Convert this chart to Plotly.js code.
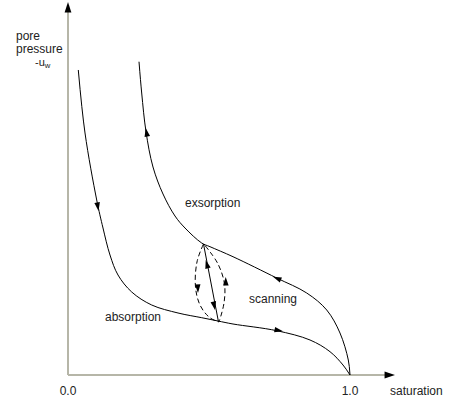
<!DOCTYPE html>
<html>
<head>
<meta charset="utf-8">
<script src="https://cdn.plot.ly/plotly-3.0.1.min.js"></script>
<style>html,body{margin:0;padding:0;background:#fff;}#chart{width:453px;height:398px;}</style>
</head>
<body>
<div id="chart"></div>
<script>
// Absorption (wetting) curve: saturation vs pore pressure -u_w
const absorptionSat = [0.0365, 0.0603, 0.1018, 0.1241, 0.1489, 0.1773, 0.2259, 0.2968, 0.3901, 0.4741, 0.5319, 0.5851, 0.7401, 0.8582, 0.9291, 0.9752, 1.0];
const absorptionPres = [1.0167, 0.8067, 0.5833, 0.49, 0.40, 0.3333, 0.2767, 0.2333, 0.2067, 0.191, 0.18, 0.17, 0.1477, 0.1167, 0.0777, 0.0333, 0];

// Exsorption (drying) curve
const exsorptionSat = [1.0, 0.994, 0.9645, 0.9174, 0.8465, 0.7401, 0.5851, 0.5035, 0.4741, 0.4149, 0.3794, 0.3369, 0.3014, 0.2766, 0.2613, 0.2518];
const exsorptionPres = [0, 0.05, 0.14, 0.2167, 0.2733, 0.3233, 0.3943, 0.4277, 0.44, 0.49, 0.53, 0.6033, 0.6933, 0.811, 0.94, 1.0443];

// Scanning curves
const scanSolidSat = [0.4805, 0.5337];
const scanSolidPres = [0.4367, 0.1767];
const scanLeftSat = [0.4805, 0.4574, 0.4521, 0.4681, 0.5, 0.5337];
const scanLeftPres = [0.4367, 0.3767, 0.2933, 0.2333, 0.1933, 0.1767];
const scanRightSat = [0.4858, 0.5319, 0.555, 0.5532, 0.5355];
const scanRightPres = [0.4317, 0.37, 0.3033, 0.24, 0.1767];

// Direction arrows on the curves: from point -> tip point
const arrowFromSat = [0.1018, 0.2837, 0.7589, 0.7305, 0.4982, 0.5142, 0.4585, 0.5599];
const arrowFromPres = [0.5833, 0.7833, 0.315, 0.1517, 0.35, 0.25, 0.34, 0.2933];
const arrowTipSat = [0.1082, 0.2755, 0.727, 0.7624, 0.4883, 0.5213, 0.461, 0.5592];
const arrowTipPres = [0.5467, 0.8233, 0.3277, 0.1457, 0.3833, 0.2167, 0.2733, 0.3267];

// Axis ends
const axisEndSat = 1.1596;
const axisEndPres = 1.2433;

// Tick labels
const tickValues = [0, 1];
const tickLabels = ['0.0', '1.0'];

// Layout geometry
const W = 453, H = 398;
const M = {l: 40, r: 0, t: 0, b: 10};
const pxPerX = 282, pxPerY = 300;
const xRange = [-(68 - M.l) / pxPerX, (W - 68) / pxPerX];
const yRange = [-(H - M.b - 375) / pxPerY, 375 / pxPerY];
const plotW = W - M.l - M.r, plotH = H - M.t - M.b;
const px2paperX = px => (px - M.l) / plotW;
const px2paperY = py => (H - M.b - py) / plotH;

function angleOf(x1, y1, x2, y2) {
  const dx = (x2 - x1) * pxPerX;
  const dy = (y2 - y1) * pxPerY;
  return Math.atan2(dx, dy) * 180 / Math.PI;
}
const arrowAngles = arrowTipSat.map((x, i) => angleOf(arrowFromSat[i], arrowFromPres[i], x, arrowTipPres[i]));

const FONT = 'Liberation Sans, Arial, Helvetica, sans-serif';
const TXT = '#222';
const AXC = '#b6b6a8';

const lineStyle = {color: '#000', width: 1, shape: 'spline', smoothing: 1};

const traces = [
  {x: absorptionSat, y: absorptionPres, mode: 'lines', line: lineStyle, hoverinfo: 'skip'},
  {x: exsorptionSat, y: exsorptionPres, mode: 'lines', line: lineStyle, hoverinfo: 'skip'},
  {x: scanSolidSat, y: scanSolidPres, mode: 'lines', line: {color: '#000', width: 1}, hoverinfo: 'skip'},
  {x: scanLeftSat, y: scanLeftPres, mode: 'lines', line: {color: '#000', width: 1, dash: '5px,3px', shape: 'spline', smoothing: 1}, hoverinfo: 'skip'},
  {x: scanRightSat, y: scanRightPres, mode: 'lines', line: {color: '#000', width: 1, dash: '5px,3px', shape: 'spline', smoothing: 1}, hoverinfo: 'skip'},
  {x: arrowTipSat, y: arrowTipPres, mode: 'markers', cliponaxis: false, hoverinfo: 'skip',
   marker: {symbol: 'arrow', size: 9, color: '#000', angle: arrowAngles, line: {width: 0}}},
  {x: [0, axisEndSat], y: [axisEndPres, 0], mode: 'markers', cliponaxis: false, hoverinfo: 'skip',
   marker: {symbol: 'arrow', size: 11, color: '#000', angle: [0, 90], line: {width: 0}}}
];

const dataAnn = [
  {text: 'exsorption', x: 0.4089, y: 0.5733},
  {text: 'absorption', x: 0.1252, y: 0.1933},
  {text: 'scanning', x: 0.6337, y: 0.2533}
].map(a => Object.assign({xref: 'x', yref: 'y', xanchor: 'left', yanchor: 'middle', showarrow: false,
  font: {family: FONT, size: 12, color: TXT}}, a));

const paperAnn = [
  {text: 'saturation', x: px2paperX(388), y: px2paperY(391)},
  {text: 'pore', x: px2paperX(14), y: px2paperY(36)},
  {text: 'pressure', x: px2paperX(14), y: px2paperY(49.3)},
  {text: '-u<sub>w</sub>', x: px2paperX(33), y: px2paperY(62.7), font: {family: FONT, size: 11, color: TXT}}
].map(a => Object.assign({xref: 'paper', yref: 'paper', xanchor: 'left', yanchor: 'middle', showarrow: false,
  font: {family: FONT, size: 12, color: TXT}}, a));

const layout = {
  width: W, height: H,
  margin: M,
  paper_bgcolor: '#fff', plot_bgcolor: '#fff',
  showlegend: false,
  font: {family: FONT, size: 12, color: TXT},
  xaxis: {
    range: xRange, anchor: 'free', position: (H - M.b - 375) / plotH,
    showgrid: false, zeroline: false, showline: false, ticks: '',
    tickvals: tickValues, ticktext: tickLabels, ticklabelstandoff: 7,
    tickfont: {family: FONT, size: 12, color: TXT}, fixedrange: true
  },
  yaxis: {
    range: yRange, showgrid: false, zeroline: false, showline: false,
    ticks: '', showticklabels: false, fixedrange: true
  },
  shapes: [
    {type: 'line', xref: 'x', yref: 'y', x0: 0, y0: 0, x1: 0, y1: axisEndPres - 0.02, line: {color: AXC, width: 2}, layer: 'below'},
    {type: 'line', xref: 'x', yref: 'y', x0: 0, y0: 0, x1: axisEndSat - 0.02, y1: 0, line: {color: AXC, width: 2}, layer: 'below'}
  ],
  annotations: dataAnn.concat(paperAnn)
};

Plotly.newPlot('chart', traces, layout, {staticPlot: true, displayModeBar: false});
</script>
</body>
</html>
